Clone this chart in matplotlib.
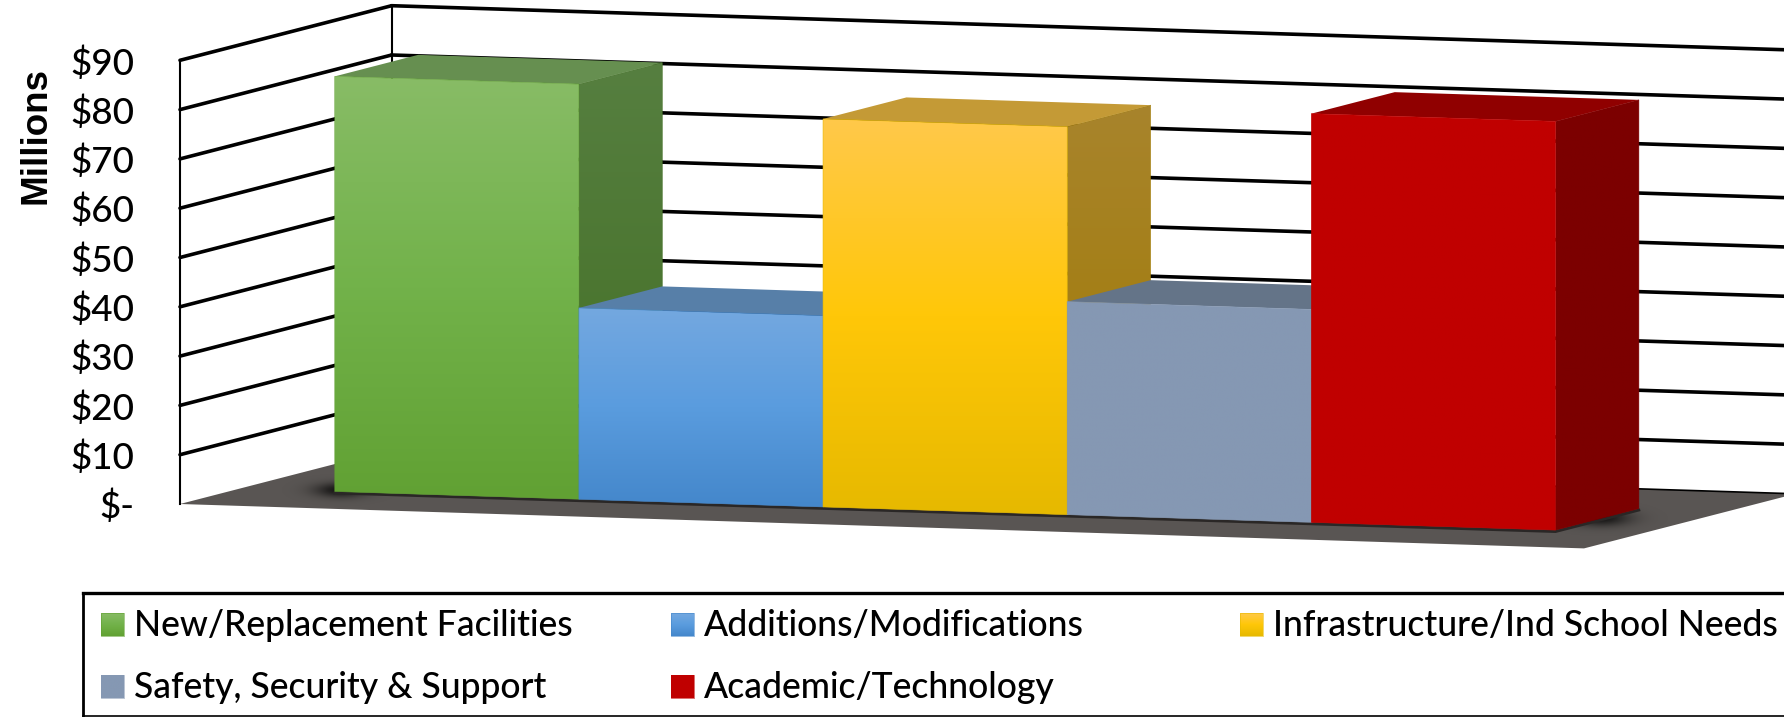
import matplotlib
matplotlib.use("Agg")
import matplotlib.pyplot as plt
from matplotlib.patches import Polygon
import numpy as np

# chart values (millions of dollars)
categories = ["New/Replacement Facilities", "Additions/Modifications", "Infrastructure/Ind School Needs",
              "Safety, Security & Support", "Academic/Technology"]
values = [84.2, 38.8, 78.7, 43.2, 82.9]
tick_values = [0, 10, 20, 30, 40, 50, 60, 70, 80, 90]
tick_labels = ["$-", "$10", "$20", "$30", "$40", "$50", "$60", "$70", "$80", "$90"]

# colours per bar: front gradient stops, side gradient stops, top face
front_colors = [["#88BC66", "#72B24A", "#61A133"],
                ["#74A8E0", "#5A9CDE", "#4487CB"],
                ["#FFC94A", "#FFC708", "#E6B900"],
                ["#8598B3", "#8598B3", "#8598B3"],
                ["#C00000", "#C00000", "#C00000"]]
side_colors = [["#567F40", "#436F24"],
               ["#4A739C", "#3A6A98"],
               ["#A8842C", "#A07A00"],
               ["#64748A", "#64748A"],
               ["#7C0000", "#7C0000"]]
top_colors = ["#668F50", "#577FA8", "#C49A36", "#647488", "#900000"]
floor_color = "#595553"

# fake 3d projection, everything goes through this
origin_x, origin_y = 180, 504
width_vec = (1404, 44.4)
depth_vec = (211.6, -54.6)
px_per_unit = 4.93

bar_start = 0.0674
bar_width = 0.1739
depth_front = 0.284
depth_back = 0.678


def proj(a, v, d):
    x = origin_x + width_vec[0] * a + depth_vec[0] * d
    y = origin_y + width_vec[1] * a + depth_vec[1] * d - v * px_per_unit
    return (x, y)


def hex_rgb(c):
    return matplotlib.colors.to_rgb(c)


def gradient_poly(ax, pts, colors, zorder):
    # vertical gradient clipped to a polygon
    xs = [p[0] for p in pts]
    ys = [p[1] for p in pts]
    stops = np.array([hex_rgb(c) for c in colors])
    pos = np.linspace(0, 1, len(colors))
    t = np.linspace(0, 1, 256)
    img = np.stack([np.interp(t, pos, stops[:, k]) for k in range(3)], axis=1)[:, None, :]
    im = ax.imshow(img, extent=(min(xs), max(xs), max(ys), min(ys)), aspect="auto",
                   origin="upper", zorder=zorder, interpolation="bilinear")
    clip = Polygon(pts, closed=True, transform=ax.transData)
    im.set_clip_path(clip)
    # thin edge so the clipped gradient does not look jagged
    ax.add_patch(Polygon(pts, closed=True, fill=False, edgecolor=colors[-1], lw=0.4, zorder=zorder))


def soft_shadow(ax, cx, cy, rx, ry, clip_pts, strength):
    xx, yy = np.meshgrid(np.linspace(-2, 2, 120), np.linspace(-2, 2, 60))
    alpha = np.exp(-(xx ** 2 + yy ** 2) * 1.5) * strength
    img = np.zeros((60, 120, 4))
    img[..., 3] = alpha
    im = ax.imshow(img, extent=(cx - rx * 2, cx + rx * 2, cy + ry * 2, cy - ry * 2), aspect="auto", zorder=2)
    im.set_clip_path(Polygon(clip_pts, closed=True, transform=ax.transData))


fig = plt.figure(figsize=(17.84, 7.17), dpi=100)
ax = fig.add_axes([0, 0, 1, 1])

# floor
floor = [proj(0, 0, 0), proj(1, 0, 0), proj(1, 0, 1), proj(0, 0, 1)]
ax.add_patch(Polygon(floor, closed=True, facecolor=floor_color, edgecolor="none", zorder=1))

# shadows on the floor next to the outer bars
n = len(values)
soft_shadow(ax, *proj(bar_start, 0, depth_front + 0.03), 32, 9, floor, 0.75)
soft_shadow(ax, *proj(bar_start + n * bar_width, 0, 0.5), 36, 10, floor, 0.75)

# walls
for v in tick_values:
    lw = 2.6 if v > 0 else 1.2
    p0, p1, p2 = proj(0, v, 0), proj(0, v, 1), proj(1, v, 1)
    if v > 0:
        ax.plot([p0[0], p1[0]], [p0[1], p1[1]], color="black", lw=lw, zorder=3, solid_capstyle="round")
    ax.plot([p1[0], p2[0]], [p1[1], p2[1]], color="black", lw=lw, zorder=3, solid_capstyle="round")
for d in [0, 1]:
    p0, p1 = proj(0, 0, d), proj(0, tick_values[-1], d)
    ax.plot([p0[0], p1[0]], [p0[1], p1[1]], color="black", lw=1.5, zorder=3)

# dark line where the bars stand on the floor
a0 = bar_start
a1 = bar_start + n * bar_width
fl0, fl1, fl2 = proj(a0, 0, depth_front), proj(a1, 0, depth_front), proj(a1, 0, depth_back)
ax.plot([fl0[0], fl1[0], fl2[0]], [fl0[1] + 1.5, fl1[1] + 1.5, fl2[1] + 1.5], color="#2A2726", lw=2.0, zorder=3)

# bars, left to right so each one covers the side of the one before
for i, v in enumerate(values):
    a0 = bar_start + i * bar_width
    a1 = a0 + bar_width
    z = 10 + i * 3
    side = [proj(a1, 0, depth_front), proj(a1, v, depth_front), proj(a1, v, depth_back), proj(a1, 0, depth_back)]
    top = [proj(a0, v, depth_front), proj(a1, v, depth_front), proj(a1, v, depth_back), proj(a0, v, depth_back)]
    front = [proj(a0, 0, depth_front), proj(a0, v, depth_front), proj(a1, v, depth_front), proj(a1, 0, depth_front)]
    gradient_poly(ax, side, side_colors[i], z)
    ax.add_patch(Polygon(top, closed=True, facecolor=top_colors[i], edgecolor="none", zorder=z + 1))
    gradient_poly(ax, front, front_colors[i], z + 2)

# axis labels
for v, lab in zip(tick_values, tick_labels):
    ax.text(134, proj(0, v, 0)[1] + 3, lab, ha="right", va="center", fontsize=26.5,
            family="Lato", fontweight="medium", color="black", zorder=30)
ax.text(36, 136, "Millions", rotation=90, ha="center", va="center", fontsize=26.5,
        family="Liberation Sans", fontweight="bold", color="black", zorder=30)

# legend box, runs off the right side like in the original
ax.plot([83, 1790], [593, 593], color="black", lw=2.4, zorder=30)
ax.plot([83, 83], [593, 716], color="black", lw=2.0, zorder=30)
ax.plot([83, 1790], [716, 716], color="black", lw=1.2, zorder=30)

legend_cols = [101, 671, 1240]
legend_rows = [625, 687]
for i, name in enumerate(categories):
    col = i % 3
    row = i // 3
    sx = legend_cols[col]
    sy = legend_rows[row]
    sw = [(sx, sy - 12), (sx + 23, sy - 12), (sx + 23, sy + 11), (sx, sy + 11)]
    gradient_poly(ax, sw, front_colors[i], 31)
    ax.text(sx + 33, sy + 1, name, ha="left", va="center", fontsize=25.6, family="Lato",
            fontweight="medium", color="black", zorder=31)

ax.set_xlim(0, 1784)
ax.set_ylim(717, 0)
ax.axis("off")
fig.savefig("out.png", dpi=100, facecolor="white")
